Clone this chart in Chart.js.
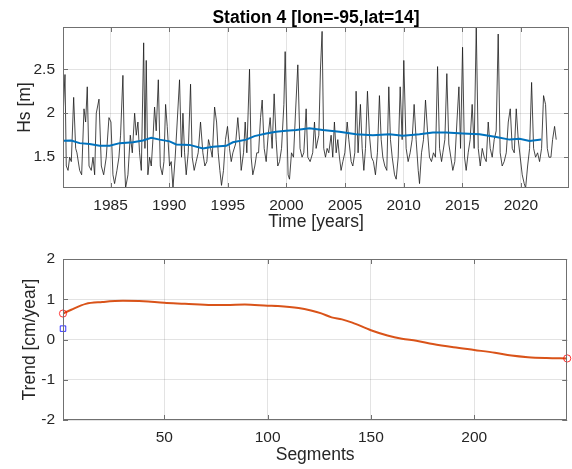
<!DOCTYPE html>
<html>
<head>
<meta charset="utf-8">
<script src="https://cdn.jsdelivr.net/npm/chart.js@4"></script>
<style>
  html, body { margin: 0; padding: 0; background: #fff; }
  #wrap { position: relative; width: 572px; height: 469px; }
  canvas { position: absolute; left: 0; }
</style>
</head>
<body>
<div id="wrap">
  <canvas id="hsChart" width="572" height="235" style="top:0"></canvas>
  <canvas id="trendChart" width="572" height="234" style="top:235px"></canvas>
</div>
<script>
// monthly-ish Hs record
const hsYears = [
  1980.94, 1981.11, 1981.22, 1981.37, 1981.51, 1981.65, 1981.85, 1982.02, 1982.13, 1982.36,
  1982.53, 1982.73, 1982.87, 1983.01, 1983.16, 1983.35, 1983.50, 1983.64, 1983.78, 1984.01,
  1984.21, 1984.41, 1984.63, 1984.86, 1985.03, 1985.20, 1985.34, 1985.54, 1985.71, 1985.85,
  1986.05, 1986.20, 1986.28, 1986.48, 1986.68, 1986.85, 1987.05, 1987.19, 1987.33, 1987.47,
  1987.62, 1987.82, 1987.93, 1988.04, 1988.18, 1988.33, 1988.47, 1988.61, 1988.75, 1988.89,
  1989.07, 1989.24, 1989.41, 1989.55, 1989.69, 1989.83, 1990.03, 1990.17, 1990.32, 1990.51,
  1990.68, 1990.88, 1991.05, 1991.17, 1991.31, 1991.45, 1991.62, 1991.82, 1991.96, 1992.13,
  1992.30, 1992.47, 1992.67, 1992.87, 1993.04, 1993.21, 1993.35, 1993.53, 1993.67, 1993.87,
  1994.04, 1994.18, 1994.32, 1994.46, 1994.63, 1994.80, 1994.97, 1995.14, 1995.29, 1995.43,
  1995.66, 1995.85, 1996.00, 1996.14, 1996.34, 1996.48, 1996.62, 1996.85, 1996.99, 1997.13,
  1997.30, 1997.47, 1997.62, 1997.79, 1997.93, 1998.10, 1998.27, 1998.44, 1998.61, 1998.78,
  1998.95, 1999.12, 1999.26, 1999.41, 1999.58, 1999.78, 1999.89, 2000.03, 2000.14, 2000.26,
  2000.43, 2000.60, 2000.77, 2000.97, 2001.16, 2001.33, 2001.48, 2001.68, 2001.82, 2002.02,
  2002.24, 2002.39, 2002.53, 2002.76, 2002.90, 2003.04, 2003.18, 2003.33, 2003.47, 2003.61,
  2003.81, 2003.95, 2004.09, 2004.24, 2004.38, 2004.52, 2004.66, 2004.81, 2004.98, 2005.18,
  2005.32, 2005.52, 2005.66, 2005.83, 2005.94, 2006.11, 2006.31, 2006.46, 2006.60, 2006.74,
  2006.91, 2007.08, 2007.25, 2007.42, 2007.59, 2007.76, 2007.93, 2008.08, 2008.22, 2008.39,
  2008.56, 2008.73, 2008.87, 2009.02, 2009.22, 2009.36, 2009.53, 2009.70, 2009.87, 2010.01,
  2010.21, 2010.38, 2010.55, 2010.72, 2010.89, 2011.06, 2011.24, 2011.35, 2011.52, 2011.69,
  2011.86, 2012.03, 2012.20, 2012.37, 2012.54, 2012.71, 2012.89, 2013.06, 2013.23, 2013.34,
  2013.51, 2013.68, 2013.85, 2014.02, 2014.19, 2014.36, 2014.54, 2014.71, 2014.85, 2015.02,
  2015.19, 2015.33, 2015.50, 2015.67, 2015.84, 2016.01, 2016.19, 2016.36, 2016.53, 2016.70,
  2016.87, 2017.04, 2017.21, 2017.38, 2017.55, 2017.72, 2017.89, 2018.06, 2018.23, 2018.40,
  2018.57, 2018.75, 2018.92, 2019.09, 2019.26, 2019.43, 2019.60, 2019.77, 2019.94, 2020.11,
  2020.28, 2020.40, 2020.57, 2020.74, 2020.91, 2021.08, 2021.25, 2021.42, 2021.59, 2021.76,
  2021.93, 2022.10, 2022.25, 2022.39, 2022.56, 2022.70, 2022.87, 2023.01
];
const hsValues = [
  1.95, 2.44, 1.40, 1.35, 1.50, 1.45, 2.18, 1.60, 1.55, 1.35,
  1.30, 2.05, 1.90, 2.30, 1.40, 1.35, 1.50, 1.30, 2.00, 2.16,
  1.40, 1.30, 1.50, 1.95, 1.90, 1.30, 1.20, 1.35, 1.50, 1.75,
  2.43, 1.40, 1.15, 1.30, 1.75, 1.55, 2.00, 1.75, 1.90, 1.55,
  1.35, 2.80, 1.60, 2.60, 1.30, 1.50, 1.40, 1.70, 2.07, 1.80,
  2.38, 1.40, 1.30, 1.45, 2.10, 1.85, 1.40, 1.45, 1.15, 1.50,
  1.90, 2.38, 1.50, 2.00, 1.55, 1.30, 1.55, 2.33, 1.50, 1.35,
  1.45, 1.55, 1.90, 1.55, 1.40, 1.45, 1.70, 1.60, 1.50, 2.07,
  1.90, 1.55, 1.35, 1.18, 1.35, 1.70, 1.85, 1.60, 1.45, 1.55,
  1.65, 1.95, 1.70, 1.35, 1.55, 1.90, 1.55, 2.50, 1.50, 1.30,
  1.40, 1.55, 1.55, 1.95, 2.15, 1.60, 1.45, 1.75, 1.95, 1.60,
  2.22, 1.70, 1.40, 1.45, 1.60, 2.10, 2.70, 1.90, 1.30, 1.25,
  1.55, 1.50, 2.00, 2.55, 1.60, 1.50, 1.55, 2.05, 1.50, 1.45,
  1.55, 1.90, 1.60, 1.75, 2.50, 2.93, 1.60, 1.50, 1.60, 1.55,
  1.75, 1.50, 1.90, 1.55, 1.70, 1.50, 1.35, 1.45, 1.55, 1.90,
  1.70, 1.45, 1.40, 1.55, 2.25, 1.55, 2.10, 1.60, 1.35, 1.60,
  2.25, 1.75, 1.50, 1.45, 1.30, 1.55, 2.20, 1.70, 1.50, 1.40,
  1.35, 2.30, 1.70, 1.50, 1.30, 1.25, 1.50, 2.30, 1.70, 2.60,
  1.60, 1.45, 1.55, 1.70, 2.10, 1.70, 1.35, 1.20, 1.55, 1.70,
  2.15, 1.80, 1.50, 1.45, 1.55, 1.50, 2.53, 1.60, 1.45, 1.55,
  1.70, 2.45, 1.65, 1.50, 1.35, 1.45, 1.90, 2.30, 1.60, 2.75,
  1.50, 1.35, 1.55, 1.70, 2.10, 1.60, 2.98, 1.60, 1.40, 1.60,
  1.50, 1.45, 1.90, 1.60, 1.50, 1.70, 1.80, 2.90, 1.55, 1.40,
  1.45, 1.55, 1.90, 2.05, 1.60, 1.55, 2.05, 1.70, 1.50, 1.30,
  1.20, 1.15, 1.40, 1.60, 2.35, 1.60, 1.50, 1.55, 1.45, 1.60,
  2.20, 2.10, 1.60, 1.50, 1.50, 1.70, 1.85, 1.70
];

// running mean (blue)
const meanYears = [
  1980.94, 1981.65, 1982.36, 1983.21, 1984.07, 1984.92, 1985.77, 1986.91, 1987.76, 1988.47,
  1989.18, 1990.03, 1990.60, 1991.74, 1992.87, 1993.72, 1994.86, 1995.43, 1996.57, 1997.27,
  1998.27, 1999.12, 1999.97, 2000.83, 2001.96, 2003.10, 2004.52, 2005.94, 2007.37, 2008.79,
  2009.93, 2011.35, 2012.49, 2013.62, 2015.05, 2016.47, 2017.89, 2019.03, 2019.88, 2020.74,
  2021.73
];
const meanValues = [
  1.686, 1.69, 1.66, 1.65, 1.63, 1.63, 1.66, 1.67, 1.69, 1.72,
  1.70, 1.68, 1.645, 1.64, 1.60, 1.62, 1.63, 1.67, 1.70, 1.74,
  1.77, 1.79, 1.80, 1.81, 1.83, 1.81, 1.79, 1.76, 1.75, 1.76,
  1.745, 1.76, 1.78, 1.78, 1.77, 1.76, 1.73, 1.70, 1.71, 1.685,
  1.70
];

const yearTicks = [1985, 1990, 1995, 2000, 2005, 2010, 2015, 2020];
const hsTicks = [1.5, 2, 2.5];

// trend per segment
const segments = [1, 5, 12, 20, 30, 40, 50, 60, 73, 80, 89, 100, 105, 115, 121, 126, 131, 136, 141, 150,
  158, 165, 172, 180, 190, 200, 210, 218, 226, 235, 245];
const trendValues = [0.645, 0.74, 0.885, 0.93, 0.96, 0.95, 0.91, 0.89, 0.86, 0.86, 0.87, 0.84, 0.83, 0.78,
  0.72, 0.65, 0.55, 0.50, 0.42, 0.23, 0.10, 0.02, -0.03, -0.11, -0.19, -0.26, -0.33, -0.40, -0.44, -0.46, -0.47];
const endSegments = [1, 245];
const endTrends = [0.645, -0.47];
const fullSegment = [1];
const fullTrend = [0.27];

const segmentTicks = [50, 100, 150, 200];
const trendTicks = [-2, -1, 0, 1, 2];

const FONT = "'Liberation Sans', Arial, Helvetica, sans-serif";
const TEXT = '#262626';
const BOX = '#707070';
const GRID = 'rgba(0,0,0,0.11)';

const pts = (xs, ys) => xs.map((x, i) => ({ x, y: ys[i] }));

function scale(min, max, ticks, label, titlePad, isY, size) {
  return {
    type: 'linear',
    min, max,
    afterBuildTicks: s => { s.ticks = ticks.map(v => ({ value: v })); },
    afterFit: s => { if (isY) s.width = size; else s.height = size; },
    grid: { color: GRID, drawTicks: false },
    border: { display: false },
    ticks: {
      color: TEXT, padding: 8, autoSkip: false, maxRotation: 0,
      font: { family: FONT, size: 15.5 },
      callback: v => String(v)
    },
    title: {
      display: true, text: label, color: TEXT, padding: titlePad,
      font: { family: FONT, size: 17.5 }
    }
  };
}

// matlab style box with inward ticks
const boxPlugin = {
  id: 'box',
  afterDraw(chart) {
    const { ctx, chartArea: a, scales: { x, y } } = chart;
    ctx.save();
    ctx.strokeStyle = BOX;
    ctx.lineWidth = 1;
    ctx.beginPath();
    x.ticks.forEach(t => {
      const px = Math.round(x.getPixelForValue(t.value)) + 0.5;
      ctx.moveTo(px, a.bottom); ctx.lineTo(px, a.bottom - 5);
      ctx.moveTo(px, a.top); ctx.lineTo(px, a.top + 5);
    });
    y.ticks.forEach(t => {
      const py = Math.round(y.getPixelForValue(t.value)) + 0.5;
      ctx.moveTo(a.left, py); ctx.lineTo(a.left + 5, py);
      ctx.moveTo(a.right, py); ctx.lineTo(a.right - 5, py);
    });
    ctx.stroke();
    ctx.strokeRect(Math.round(a.left) + 0.5, Math.round(a.top) + 0.5,
      Math.round(a.right - a.left) - 1, Math.round(a.bottom - a.top) - 1);
    ctx.restore();
  }
};

const titlePlugin = {
  id: 'axTitle',
  afterDraw(chart) {
    const { ctx, chartArea: a } = chart;
    ctx.save();
    ctx.font = 'bold 17.5px ' + FONT;
    ctx.fillStyle = '#000';
    ctx.textAlign = 'center';
    ctx.textBaseline = 'alphabetic';
    ctx.fillText('Station 4 [lon=-95,lat=14]', (a.left + a.right) / 2, 22.7);
    ctx.restore();
  }
};

const common = {
  responsive: false,
  animation: false,
  devicePixelRatio: 1,
  plugins: { legend: { display: false }, tooltip: { enabled: false } }
};

new Chart(document.getElementById('hsChart'), {
  type: 'line',
  data: {
    datasets: [
      { data: pts(meanYears, meanValues), borderColor: '#0072BD', borderWidth: 2, pointRadius: 0, tension: 0 },
      { data: pts(hsYears, hsValues), borderColor: '#1a1a1a', borderWidth: 0.8, pointRadius: 0, tension: 0 }
    ]
  },
  options: {
    ...common,
    layout: { padding: { top: 27, right: 3, left: 0, bottom: 0 } },
    scales: {
      x: scale(1980.94, 2024.1, yearTicks, 'Time [years]', { top: 0, bottom: 2 }, false, 47),
      y: scale(1.15, 2.98, hsTicks, 'Hs [m]', { top: 14.5, bottom: 0 }, true, 63)
    }
  },
  plugins: [boxPlugin, titlePlugin]
});

new Chart(document.getElementById('trendChart'), {
  type: 'line',
  data: {
    datasets: [
      { data: pts(endSegments, endTrends), showLine: false, pointStyle: 'circle', pointRadius: 3.6,
        borderColor: '#ff0000', borderWidth: 0.8, backgroundColor: 'rgba(0,0,0,0)', clip: false },
      { data: pts(fullSegment, fullTrend), showLine: false, pointStyle: 'rect', pointRadius: 3.9,
        borderColor: '#0000ff', borderWidth: 0.8, backgroundColor: 'rgba(0,0,0,0)', clip: false },
      { data: pts(segments, trendValues), borderColor: '#D95319', borderWidth: 2, pointRadius: 0,
        cubicInterpolationMode: 'monotone' }
    ]
  },
  options: {
    ...common,
    layout: { padding: { top: 24, right: 3, left: 0, bottom: 0 } },
    scales: {
      x: scale(1, 245, segmentTicks, 'Segments', { top: 0, bottom: 3.2 }, false, 49),
      y: scale(-2, 2, trendTicks, 'Trend [cm/year]', { top: 20, bottom: 0 }, true, 63)
    }
  },
  plugins: [boxPlugin]
});
</script>
</body>
</html>
